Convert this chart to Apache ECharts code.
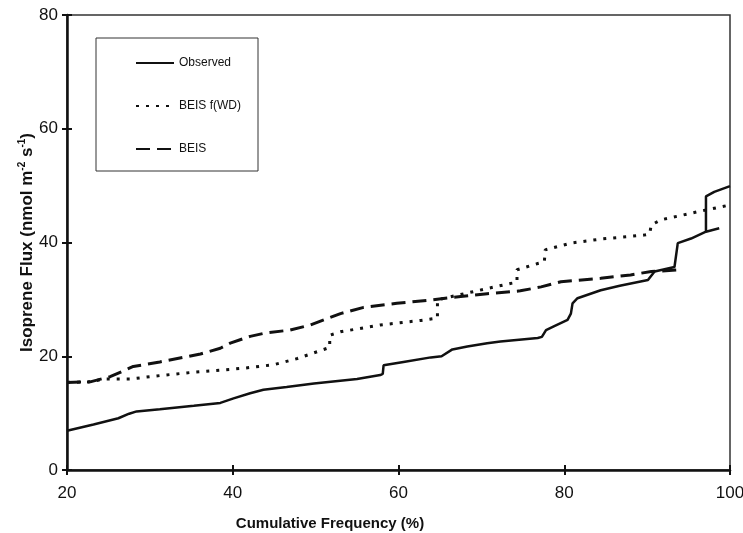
<!DOCTYPE html>
<html>
<head>
<meta charset="utf-8">
<script src="https://cdn.jsdelivr.net/npm/echarts@6/dist/echarts.min.js"></script>
<style>
  html, body { margin: 0; padding: 0; background: #fff; }
  #chart { width: 743px; height: 533px; }
</style>
</head>
<body>
<div id="chart"></div>
<script>
// [cumulative frequency %, flux]
const observed = [
  [20, 6.9], [23.2, 8.0], [26.2, 9.1], [27.5, 9.9], [28.4, 10.3], [31.2, 10.7],
  [35.3, 11.3], [38.5, 11.8], [40.1, 12.6], [42.1, 13.5], [43.7, 14.1], [46.5, 14.6],
  [49.8, 15.2], [55, 16.0], [57.8, 16.7], [58.1, 16.9], [58.2, 18.4], [60.6, 19.0],
  [63.9, 19.8], [65.2, 20.0], [66.5, 21.2], [68.3, 21.7], [70.7, 22.3], [72.3, 22.6],
  [76.8, 23.2], [77.3, 23.4], [77.8, 24.6], [78.8, 25.3], [80.4, 26.4], [80.8, 27.5],
  [81.0, 29.3], [81.6, 30.2], [84.4, 31.6], [86.7, 32.4], [90.1, 33.4], [90.9, 34.9],
  [93.3, 35.7], [93.7, 39.9], [95.3, 40.7], [97.1, 41.9], [98.7, 42.5], [97.1, 41.9],
  [97.1, 48.1], [98.1, 48.9], [100, 49.9]
]
const beisWD = [
  [20, 15.4], [22.8, 15.5], [24.4, 16.0], [27.6, 16.0], [31.2, 16.6], [35.3, 17.2],
  [39.7, 17.7], [41.3, 17.9], [44.9, 18.5], [47.8, 19.6], [51.4, 21.4], [51.7, 21.5],
  [51.7, 23.7], [53, 24.3], [57.8, 25.5], [62.7, 26.3], [64.7, 26.7], [64.7, 29.9],
  [66.7, 30.6], [70.7, 31.9], [73.5, 32.8], [74.3, 33.0], [74.3, 35.2], [76.8, 36.3],
  [77.6, 36.6], [77.7, 38.7], [80.8, 39.9], [84.4, 40.6], [89.6, 41.3], [90.3, 41.5],
  [90.5, 43.1], [91.7, 44.0], [96.1, 45.4], [100, 46.6]
]
const beis = [
  [20, 15.4], [22.8, 15.5], [25.2, 16.4], [28, 18.2], [31.2, 19.0], [36.1, 20.4],
  [38.5, 21.4], [39.7, 22.3], [42.1, 23.5], [44, 24.1], [46.9, 24.6], [49.4, 25.5],
  [53, 27.5], [55.8, 28.6], [59.8, 29.3], [63.9, 29.9], [67.5, 30.5], [70.7, 31.0],
  [74.7, 31.5], [77.2, 32.2], [79.6, 33.1], [84.4, 33.7], [88, 34.3], [90.5, 34.9],
  [94.1, 35.2]
]
const seriesNames = ['Observed', 'BEIS f(WD)', 'BEIS']

const font = '"Liberation Sans", Arial, sans-serif'
const chart = echarts.init(document.getElementById('chart'))

const xBase = { type: 'value', min: 20, max: 100, interval: 20, gridIndex: 0, position: 'bottom', splitLine: { show: false } }
const yBase = { type: 'value', min: 0, max: 80, interval: 20, gridIndex: 0, position: 'left', splitLine: { show: false } }

chart.setOption({
  animation: false,
  backgroundColor: '#fff',
  grid: {
    left: 67, right: 13, top: 15, bottom: 63, show: true, borderColor: '#333', borderWidth: 1.5,
    containLabel: false, outerBoundsMode: 'none'
  },
  xAxis: [
    Object.assign({}, xBase, {
      axisLine: { lineStyle: { color: '#111', width: 2.5 } },
      axisTick: { length: 5, lineStyle: { color: '#111', width: 2 } },
      axisLabel: { margin: 15, fontSize: 17, color: '#111', fontFamily: font }
    }),
    Object.assign({}, xBase, {
      axisLine: { show: false },
      axisTick: { inside: true, length: 5, lineStyle: { color: '#111', width: 2 } },
      axisLabel: { show: false }
    })
  ],
  yAxis: [
    Object.assign({}, yBase, {
      name: 'Isoprene Flux (nmol m{sup|-2} s{sup|-1})',
      nameLocation: 'middle',
      nameRotate: 90,
      nameGap: 30,
      nameMoveOverlap: false,
      nameTextStyle: {
        fontSize: 17, fontWeight: 'bold', color: '#111', fontFamily: font, lineHeight: 20,
        rich: { sup: { fontSize: 10, fontWeight: 'bold', color: '#111', fontFamily: font, lineHeight: 10, verticalAlign: 'top' } }
      },
      axisLine: { lineStyle: { color: '#111', width: 2.5 } },
      axisTick: { length: 5, lineStyle: { color: '#111', width: 2 } },
      axisLabel: { margin: 9, fontSize: 17, color: '#111', fontFamily: font }
    }),
    Object.assign({}, yBase, {
      axisLine: { show: false },
      axisTick: { inside: true, length: 5, lineStyle: { color: '#111', width: 2 } },
      axisLabel: { show: false }
    })
  ],
  legend: {
    orient: 'vertical',
    left: 130,
    top: 52,
    itemWidth: 38,
    itemHeight: 14,
    itemGap: 31,
    itemStyle: { opacity: 0 },
    textStyle: { fontSize: 12, color: '#111', fontFamily: font },
    data: seriesNames
  },
  graphic: [
    {
      type: 'rect',
      shape: { x: 96, y: 38, width: 162, height: 133 },
      style: { fill: 'none', stroke: '#333', lineWidth: 1 },
      z: 1
    },
    {
      type: 'text',
      x: 330,
      y: 524,
      style: {
        text: 'Cumulative Frequency (%)',
        font: 'bold 15px "Liberation Sans", Arial, sans-serif',
        fill: '#111',
        align: 'center',
        verticalAlign: 'middle'
      }
    }
  ],
  series: [
    {
      name: seriesNames[0], type: 'line', data: observed, symbol: 'none',
      lineStyle: { color: '#111', width: 2.5 }, itemStyle: { color: '#111' }
    },
    {
      name: seriesNames[1], type: 'line', data: beisWD, symbol: 'none',
      lineStyle: { color: '#111', width: 3, type: [3, 7] }, itemStyle: { color: '#111' }
    },
    {
      name: seriesNames[2], type: 'line', data: beis, symbol: 'none',
      lineStyle: { color: '#111', width: 3, type: [14, 7] }, itemStyle: { color: '#111' }
    }
  ]
})
</script>
</body>
</html>
